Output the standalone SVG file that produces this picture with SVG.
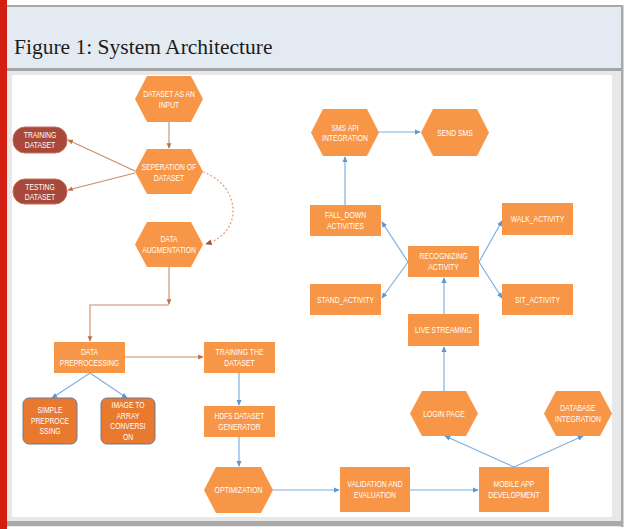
<svg xmlns="http://www.w3.org/2000/svg" width="625" height="529" viewBox="0 0 625 529">
<defs>
<style>
.hex,.box{fill:#f79646;}
.dark{fill:#e8792f;stroke:#6b7c93;stroke-width:1;}
.pill{fill:#a8483a;stroke:#c4705c;stroke-width:1;}
.t{font-family:"Liberation Sans",Arial,sans-serif;font-size:9.2px;fill:#ffffff;text-anchor:middle;}
.br{fill:none;stroke:#c98c68;stroke-width:1.1;}
.bl{fill:none;stroke:#7eb0e2;stroke-width:1.2;}
.dash{fill:none;stroke:#e3a07a;stroke-width:1.3;stroke-dasharray:2 2;}
</style>
<marker id="ab" viewBox="0 0 8 8" refX="7" refY="4" markerWidth="5" markerHeight="5" orient="auto"><path d="M0,0.5 L8,4 L0,7.5 z" fill="#b8734c"/></marker>
<marker id="ad" viewBox="0 0 8 8" refX="7" refY="4" markerWidth="5" markerHeight="5" orient="auto"><path d="M0,0.5 L8,4 L0,7.5 z" fill="#9a5a3a"/></marker>
<marker id="ablue" viewBox="0 0 8 8" refX="7" refY="4" markerWidth="5" markerHeight="5" orient="auto"><path d="M0,0.5 L8,4 L0,7.5 z" fill="#5b96d6"/></marker>
</defs>

<!-- frame -->
<rect x="0" y="0" width="625" height="529" fill="#ffffff"/>
<rect x="7" y="5" width="616" height="522" fill="#e8e8e8"/>
<rect x="7" y="5" width="616" height="2" fill="#a9a9a9"/>
<rect x="7" y="7" width="614" height="61" fill="#e3eaf1"/>
<rect x="7" y="68" width="614" height="3" fill="#a4a4a4"/>
<rect x="621" y="5" width="2.5" height="522" fill="#a9a9a9"/>
<rect x="7" y="521" width="616" height="5" fill="#a9a9a9"/>
<rect x="12" y="75" width="600" height="442" fill="#ffffff"/>
<rect x="0" y="0" width="7" height="529" fill="#d21f12"/>
<text x="14" y="54" font-family="Liberation Serif,'Times New Roman',serif" font-size="21.5" fill="#1c1c1c">Figure 1: System Architecture</text>

<!-- connectors -->
<g id="connectors">
<path class="br" d="M169,122 V148" marker-end="url(#ab)"/>
<path class="br" d="M135,171 L68,140" marker-end="url(#ab)"/>
<path class="br" d="M135,173 L68,190" marker-end="url(#ab)"/>
<path class="dash" d="M203,172 C240,185 245,232 206,244" marker-end="url(#ad)"/>
<path class="br" d="M169,267 V304" marker-end="url(#ab)"/>
<path class="br" d="M169,305 H90 V341" marker-end="url(#ab)"/>
<path class="br" d="M125,357 H203" marker-end="url(#ab)"/>
<path class="bl" d="M90,373 L52,398" marker-end="url(#ablue)"/>
<path class="bl" d="M90,373 L127,398" marker-end="url(#ablue)"/>
<path class="bl" d="M239,373 V405" marker-end="url(#ablue)"/>
<path class="bl" d="M239,437 V466" marker-end="url(#ablue)"/>
<path class="bl" d="M273,490 H339" marker-end="url(#ablue)"/>
<path class="bl" d="M410,490 H478" marker-end="url(#ablue)"/>
<path class="bl" d="M514,467 L445,436" marker-end="url(#ablue)"/>
<path class="bl" d="M514,467 L583,436" marker-end="url(#ablue)"/>
<path class="bl" d="M444,391 V347" marker-end="url(#ablue)"/>
<path class="bl" d="M444,314 V278" marker-end="url(#ablue)"/>
<path class="bl" d="M408,262 L382,298" marker-end="url(#ablue)"/>
<path class="bl" d="M479,262 L502,298" marker-end="url(#ablue)"/>
<path class="bl" d="M408,262 L382,222" marker-end="url(#ablue)"/>
<path class="bl" d="M479,262 L502,221" marker-end="url(#ablue)"/>
<path class="bl" d="M345,205 V157" marker-end="url(#ablue)"/>
<path class="bl" d="M379,132 H420" marker-end="url(#ablue)"/>
</g>

<!-- nodes -->
<g id="dataset-input">
<polygon class="hex" points="135,99 147,76 191,76 203,99 191,122 147,122"/>
<text class="t" transform="translate(169,0) scale(0.74,1)"><tspan x="0" y="97.5">DATASET AS AN</tspan><tspan x="0" y="108">INPUT</tspan></text>
</g>
<g id="separation">
<polygon class="hex" points="135,171.5 147,149 191,149 203,171.5 191,194 147,194"/>
<text class="t" transform="translate(169,0) scale(0.74,1)"><tspan x="0" y="170.5">SEPERATION OF</tspan><tspan x="0" y="181">DATASET</tspan></text>
</g>
<g id="training-dataset">
<rect class="pill" x="13" y="127" width="54" height="26" rx="12"/>
<text class="t" transform="translate(40,0) scale(0.74,1)"><tspan x="0" y="138">TRAINING</tspan><tspan x="0" y="148.5">DATASET</tspan></text>
</g>
<g id="testing-dataset">
<rect class="pill" x="13" y="179" width="54" height="25" rx="12"/>
<text class="t" transform="translate(40,0) scale(0.74,1)"><tspan x="0" y="190">TESTING</tspan><tspan x="0" y="200.5">DATASET</tspan></text>
</g>
<g id="data-augmentation">
<polygon class="hex" points="135,244.5 147,222 191,222 203,244.5 191,267 147,267"/>
<text class="t" transform="translate(169,0) scale(0.74,1)"><tspan x="0" y="242.5">DATA</tspan><tspan x="0" y="253.5">AUGMENTATION</tspan></text>
</g>
<g id="data-preprocessing">
<rect class="box" x="54" y="342" width="71" height="31"/>
<text class="t" transform="translate(89.5,0) scale(0.74,1)"><tspan x="0" y="355.5">DATA</tspan><tspan x="0" y="366">PREPROCESSING</tspan></text>
</g>
<g id="training-the-dataset">
<rect class="box" x="204" y="342" width="71" height="31"/>
<text class="t" transform="translate(239.5,0) scale(0.74,1)"><tspan x="0" y="355.5">TRAINING THE</tspan><tspan x="0" y="366">DATASET</tspan></text>
</g>
<g id="simple-preprocessing">
<rect class="dark" x="23" y="398" width="54" height="46" rx="6"/>
<text class="t" transform="translate(50,0) scale(0.74,1)"><tspan x="0" y="413.5">SIMPLE</tspan><tspan x="0" y="424">PREPROCE</tspan><tspan x="0" y="434.5">SSING</tspan></text>
</g>
<g id="image-to-array">
<rect class="dark" x="101" y="398" width="54" height="46" rx="6"/>
<text class="t" transform="translate(128,0) scale(0.74,1)"><tspan x="0" y="408.5">IMAGE TO</tspan><tspan x="0" y="419">ARRAY</tspan><tspan x="0" y="429.5">CONVERSI</tspan><tspan x="0" y="440">ON</tspan></text>
</g>
<g id="hdf5-generator">
<rect class="box" x="204" y="406" width="71" height="31"/>
<text class="t" transform="translate(239.5,0) scale(0.74,1)"><tspan x="0" y="419.5">HDF5 DATASET</tspan><tspan x="0" y="430">GENERATOR</tspan></text>
</g>
<g id="optimization">
<polygon class="hex" points="204,490 216,467 261,467 273,490 261,513 216,513"/>
<text class="t" transform="translate(238.5,0) scale(0.74,1)"><tspan x="0" y="493.5">OPTIMIZATION</tspan></text>
</g>
<g id="validation">
<rect class="box" x="340" y="467" width="70" height="45"/>
<text class="t" transform="translate(375,0) scale(0.74,1)"><tspan x="0" y="487.5">VALIDATION AND</tspan><tspan x="0" y="498">EVALUATION</tspan></text>
</g>
<g id="mobile-app">
<rect class="box" x="479" y="467" width="70" height="45"/>
<text class="t" transform="translate(514,0) scale(0.74,1)"><tspan x="0" y="487.5">MOBILE APP</tspan><tspan x="0" y="498">DEVELOPMENT</tspan></text>
</g>
<g id="login-page">
<polygon class="hex" points="410,413.5 422,391 466,391 478,413.5 466,436 422,436"/>
<text class="t" transform="translate(444,0) scale(0.74,1)"><tspan x="0" y="417">LOGIN PAGE</tspan></text>
</g>
<g id="database-integration">
<polygon class="hex" points="544,413.5 556,391 600,391 612,413.5 600,436 556,436"/>
<text class="t" transform="translate(578,0) scale(0.74,1)"><tspan x="0" y="411.5">DATABASE</tspan><tspan x="0" y="422">INTEGRATION</tspan></text>
</g>
<g id="live-streaming">
<rect class="box" x="408" y="314" width="71" height="32"/>
<text class="t" transform="translate(443.5,0) scale(0.74,1)"><tspan x="0" y="333.5">LIVE STREAMING</tspan></text>
</g>
<g id="recognizing-activity">
<rect class="box" x="408" y="246" width="71" height="31"/>
<text class="t" transform="translate(443.5,0) scale(0.74,1)"><tspan x="0" y="259.5">RECOGNIZING</tspan><tspan x="0" y="270">ACTIVITY</tspan></text>
</g>
<g id="stand-activity">
<rect class="box" x="310" y="284" width="71" height="31"/>
<text class="t" transform="translate(345.5,0) scale(0.74,1)"><tspan x="0" y="303">STAND_ACTIVITY</tspan></text>
</g>
<g id="sit-activity">
<rect class="box" x="502" y="284" width="71" height="31"/>
<text class="t" transform="translate(537.5,0) scale(0.74,1)"><tspan x="0" y="303">SIT_ACTIVITY</tspan></text>
</g>
<g id="fall-down">
<rect class="box" x="310" y="205" width="71" height="31"/>
<text class="t" transform="translate(345.5,0) scale(0.74,1)"><tspan x="0" y="218.5">FALL_DOWN</tspan><tspan x="0" y="229">ACTIVITIES</tspan></text>
</g>
<g id="walk-activity">
<rect class="box" x="502" y="203" width="71" height="32"/>
<text class="t" transform="translate(537.5,0) scale(0.74,1)"><tspan x="0" y="222.5">WALK_ACTIVITY</tspan></text>
</g>
<g id="sms-api">
<polygon class="hex" points="311,132.5 323,109 367,109 379,132.5 367,156 323,156"/>
<text class="t" transform="translate(345,0) scale(0.74,1)"><tspan x="0" y="131">SMS API</tspan><tspan x="0" y="141.5">INTEGRATION</tspan></text>
</g>
<g id="send-sms">
<polygon class="hex" points="421,132.5 433,109 477,109 489,132.5 477,156 433,156"/>
<text class="t" transform="translate(455,0) scale(0.74,1)"><tspan x="0" y="136">SEND SMS</tspan></text>
</g>
</svg>
